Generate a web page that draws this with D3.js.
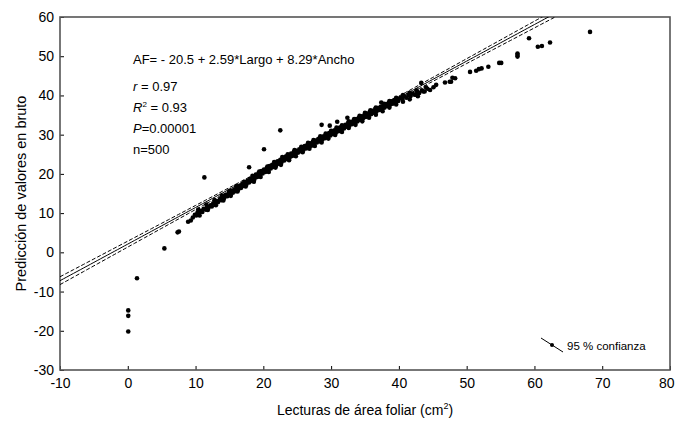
<!DOCTYPE html>
<html>
<head>
<meta charset="utf-8">
<script src="https://cdn.jsdelivr.net/npm/d3@7"></script>
<style>
  body { margin: 0; background: #fff; }
  svg { display: block; font-family: "Liberation Sans", Arial, sans-serif; }
</style>
</head>
<body>
<svg id="chart" width="676" height="423"></svg>
<script>
'use strict';

// lecturas de área foliar (x) y predicción (y)
const lecturas = [
  0.07, 0.07, 0.07, 1.36, 5.4, 7.35, 7.55, 8.9, 9.3,
  9.6, 9.9, 10.1, 10.3, 10.5, 10.8, 11.0, 11.2, 11.5, 11.7, 11.9, 12.2, 12.4, 12.6, 12.9,
  13.1, 13.3, 13.6, 13.8, 14.0, 14.2, 14.5, 14.7, 14.9, 15.1, 15.3, 15.5, 15.7, 15.9,
  16.1, 16.3, 16.5, 16.7, 16.9, 17.1, 17.3, 17.5, 17.7, 17.9, 18.1, 18.3, 18.5, 18.7,
  18.9, 19.1, 19.3, 19.5, 19.7, 19.9, 20.1, 20.3, 20.5, 20.7, 20.9, 21.1, 21.3, 21.5,
  21.7, 21.9, 22.1, 22.3, 22.5, 22.7, 22.9, 23.1, 23.3, 23.5, 23.7, 23.9, 24.1, 24.3,
  24.5, 24.7, 24.9, 25.1, 25.3, 25.5, 25.7, 25.9, 26.1, 26.3, 26.5, 26.7, 26.9, 27.1,
  27.3, 27.5, 27.7, 27.9, 28.1, 28.3, 28.5, 28.7, 28.9, 29.1, 29.3, 29.5, 29.7, 29.9,
  30.1, 30.3, 30.5, 30.7, 30.9, 31.1, 31.3, 31.5, 31.7, 31.9, 32.1, 32.3, 32.5, 32.7,
  32.9, 33.1, 33.3, 33.5, 33.7, 33.9, 34.1, 34.3, 34.5, 34.7, 34.9, 35.1, 35.3, 35.5,
  35.7, 35.9, 36.1, 36.3, 36.5, 36.7, 36.9, 37.1, 37.3, 37.5, 37.7, 37.9, 38.1, 38.3,
  38.5, 38.7, 38.9, 39.1, 39.3, 39.5, 39.7, 39.9, 40.2, 40.5, 40.8, 41.1, 41.4, 41.7,
  42.0, 42.3, 42.7, 43.0, 43.4, 43.8, 44.2, 44.6, 45.1,
  // borde superior de la nube
  10.4, 11.6, 12.8, 13.9, 15.0, 16.0, 17.2, 18.4, 19.4, 20.6, 21.6, 22.8, 23.6, 24.6,
  25.6, 26.6, 27.4, 28.4, 29.2, 30.0, 30.8, 31.6, 32.6, 33.4, 34.2, 35.0, 35.8, 36.6,
  37.8, 38.6, 39.6, 40.6, 41.6, 42.6, 44.0,
  // borde inferior de la nube
  10.6, 11.8, 13.0, 14.1, 15.2, 16.2, 17.4, 18.6, 19.6, 20.8, 21.8, 22.6, 23.8, 24.8,
  25.8, 26.8, 27.6, 28.6, 29.6, 30.6, 31.6, 32.6, 33.6, 34.6, 35.6, 36.6, 37.6, 38.6,
  39.6, 40.6, 41.6, 42.8,
  // puntos sueltos
  11.3, 17.9, 20.1, 22.5, 28.6, 29.8, 30.9, 32.4, 37.4, 43.3, 45.5, 46.8, 47.5, 43.6, 42.6,
  47.7, 47.9, 48.3, 50.5, 51.4, 51.8, 52.2, 53.2, 54.8, 55.1, 57.5, 57.5, 57.5, 59.2,
  60.5, 61.1, 62.3, 68.2
];
const prediccion = [
  -20.2, -16.2, -14.8, -6.6, 1.0, 5.1, 5.3, 7.8, 8.1,
  8.9, 9.6, 9.4, 10.2, 9.9, 10.6, 10.3, 11.1, 10.9, 11.6, 11.3, 12.0, 11.7, 12.5, 12.3,
  13.1, 12.8, 13.6, 13.3, 14.2, 13.8, 14.6, 14.3, 15.2, 14.8, 15.6, 15.2, 16.0, 15.6,
  16.5, 16.0, 16.9, 16.4, 17.4, 16.9, 17.8, 17.3, 18.3, 17.8, 18.8, 18.2, 19.3, 18.7,
  19.8, 19.2, 20.2, 19.6, 20.7, 20.1, 21.1, 20.5, 21.5, 20.9, 22.0, 21.4, 22.3, 21.8,
  22.8, 22.2, 23.2, 22.6, 23.6, 23.0, 24.0, 23.4, 24.4, 23.8, 24.8, 24.2, 25.2, 24.6,
  25.6, 25.0, 25.9, 25.4, 26.3, 25.8, 26.7, 26.1, 27.1, 26.5, 27.4, 26.9, 27.8, 27.2,
  28.2, 27.6, 28.5, 28.0, 28.9, 28.3, 29.3, 28.7, 29.6, 29.1, 30.0, 29.4, 30.4, 29.8,
  30.7, 30.2, 31.1, 30.5, 31.5, 30.9, 31.8, 31.2, 32.2, 31.6, 32.5, 32.0, 32.9, 32.3,
  33.2, 32.7, 33.6, 33.0, 34.0, 33.4, 34.3, 33.8, 34.7, 34.1, 35.0, 34.5, 35.4, 34.9,
  35.8, 35.2, 36.1, 35.6, 36.5, 35.9, 36.8, 36.3, 37.1, 36.6, 37.5, 36.9, 37.8, 37.3,
  38.1, 37.6, 38.5, 37.9, 38.8, 38.3, 39.1, 38.6, 39.4, 39.0, 39.8, 39.4, 40.1, 39.8,
  40.5, 40.2, 40.9, 40.6, 41.3, 41.0, 41.7, 41.4, 42.1,
  10.9, 12.2, 13.3, 14.5, 15.7, 16.9, 18.0, 19.5, 20.6, 21.9, 23.0, 24.3, 25.0, 26.1,
  26.9, 27.9, 28.6, 29.6, 30.3, 31.0, 31.8, 32.4, 33.4, 34.0, 34.8, 35.6, 36.2, 36.9,
  37.9, 38.6, 39.4, 40.1, 40.7, 41.3, 42.1,
  9.4, 10.8, 12.0, 13.2, 14.4, 15.5, 16.8, 18.0, 19.2, 20.5, 21.6, 22.3, 23.5, 24.5,
  25.5, 26.4, 27.1, 28.0, 29.0, 29.9, 30.7, 31.7, 32.5, 33.4, 34.3, 35.1, 36.0, 36.9,
  37.7, 38.4, 39.0, 39.8,
  19.1, 21.7, 26.3, 31.1, 32.5, 32.3, 33.3, 34.3, 38.2, 43.2, 42.7, 43.3, 43.5, 41.0, 40.1,
  43.5, 44.5, 44.4, 46.0, 46.3, 46.7, 46.9, 47.3, 48.3, 48.3, 50.7, 50.3, 49.9, 54.6,
  52.4, 52.6, 53.5, 56.2
];

const xTicks = [-10, 0, 10, 20, 30, 40, 50, 60, 70, 80];
const yTicks = [-30, -20, -10, 0, 10, 20, 30, 40, 50, 60];

// recta ajustada y banda de confianza 95 %
const intercepto = 2.1;
const pendiente = 0.933;
const ciCentro = 0.25, ciPendiente = 0.0255, xMedia = 28;

const width = 676, height = 423;
const margin = {top: 17, right: 6, bottom: 53, left: 60};
const svg = d3.select("#chart");

const x = d3.scaleLinear().domain([-10, 80]).range([margin.left, width - margin.right]);
const y = d3.scaleLinear().domain([-30, 60]).range([height - margin.bottom, margin.top]);

svg.append("clipPath").attr("id", "clip")
  .append("rect")
  .attr("x", x(-10)).attr("y", y(60))
  .attr("width", x(80) - x(-10)).attr("height", y(-30) - y(60));

// ejes
const fmt = d => String(d);
const xAxis = d3.axisBottom(x).tickValues(xTicks).tickFormat(fmt)
  .tickSizeInner(-4).tickSizeOuter(0).tickPadding(8);
const yAxis = d3.axisLeft(y).tickValues(yTicks).tickFormat(fmt)
  .tickSizeInner(-4).tickSizeOuter(0).tickPadding(6);

const gx = svg.append("g")
  .attr("transform", `translate(0, ${y(-30)})`)
  .call(xAxis);
const gy = svg.append("g")
  .attr("transform", `translate(${x(-10)}, 0)`)
  .call(yAxis);

[gx, gy].forEach(g => {
  g.select(".domain").remove();
  g.selectAll(".tick line").attr("stroke", "#000");
  g.selectAll(".tick text").attr("font-size", 14).attr("fill", "#000")
    .attr("font-family", "'Liberation Sans', Arial, sans-serif");
});
// la última etiqueta queda pegada al borde
gx.selectAll(".tick text").filter(d => d === 80).attr("text-anchor", "end").attr("dx", 4);

// marco
svg.append("rect")
  .attr("x", x(-10)).attr("y", y(60))
  .attr("width", x(80) - x(-10)).attr("height", y(-30) - y(60))
  .attr("fill", "none")
  .attr("stroke", "#555")
  .attr("stroke-width", 1.6);

// líneas de regresión
const xs = d3.range(-10, 80.5, 0.5);
const lineFit = d3.line().x(d => x(d)).y(d => y(intercepto + pendiente * d));
const halfWidth = d => Math.sqrt(ciCentro * ciCentro + ciPendiente * ciPendiente * (d - xMedia) * (d - xMedia));
const lineUp = d3.line().x(d => x(d)).y(d => y(intercepto + pendiente * d + halfWidth(d)));
const lineLo = d3.line().x(d => x(d)).y(d => y(intercepto + pendiente * d - halfWidth(d)));

const gLines = svg.append("g").attr("clip-path", "url(#clip)");
gLines.append("path").attr("d", lineFit(xs))
  .attr("fill", "none").attr("stroke", "#000").attr("stroke-width", 1);
[lineUp, lineLo].forEach(l => {
  gLines.append("path").attr("d", l(xs))
    .attr("fill", "none").attr("stroke", "#000").attr("stroke-width", 1)
    .attr("stroke-dasharray", "4,2");
});

// puntos
svg.append("g")
  .selectAll("circle")
  .data(lecturas.map((d, i) => [d, prediccion[i]]))
  .enter()
  .append("circle")
  .attr("cx", d => x(d[0]))
  .attr("cy", d => y(d[1]))
  .attr("r", 2.3)
  .attr("fill", "#000");

// anotaciones
const ann = svg.append("g").attr("font-size", 13).attr("fill", "#000");
ann.append("text").attr("x", 133).attr("y", 64).text("AF= - 20.5 + 2.59*Largo + 8.29*Ancho");
const t1 = ann.append("text").attr("x", 133).attr("y", 91);
t1.append("tspan").attr("font-style", "italic").text("r");
t1.append("tspan").text(" = 0.97");
const t2 = ann.append("text").attr("x", 133).attr("y", 112);
t2.append("tspan").attr("font-style", "italic").text("R");
t2.append("tspan").attr("font-size", 8).attr("dy", -5).text("2");
t2.append("tspan").attr("dy", 5).text(" = 0.93");
const t3 = ann.append("text").attr("x", 133).attr("y", 133);
t3.append("tspan").attr("font-style", "italic").text("P");
t3.append("tspan").text("=0.00001");
ann.append("text").attr("x", 133).attr("y", 154).text("n=500");

// leyenda
svg.append("line")
  .attr("x1", 541).attr("y1", 338).attr("x2", 563).attr("y2", 352)
  .attr("stroke", "#000").attr("stroke-width", 1);
svg.append("circle").attr("cx", 552).attr("cy", 345).attr("r", 2).attr("fill", "#000");
svg.append("text").attr("x", 567).attr("y", 350).attr("font-size", 11.5).text("95 % confianza");

// títulos de ejes
const xt = svg.append("text")
  .attr("x", (x(-10) + x(80)) / 2).attr("y", 415)
  .attr("text-anchor", "middle").attr("font-size", 14);
xt.append("tspan").text("Lecturas de área foliar (cm");
xt.append("tspan").attr("font-size", 9).attr("dy", -6).text("2");
xt.append("tspan").attr("dy", 6).text(")");

svg.append("text")
  .attr("transform", `translate(26, ${(y(60) + y(-30)) / 2}) rotate(-90)`)
  .attr("text-anchor", "middle").attr("font-size", 14.5)
  .text("Predicción de valores en bruto");
</script>
</body>
</html>
